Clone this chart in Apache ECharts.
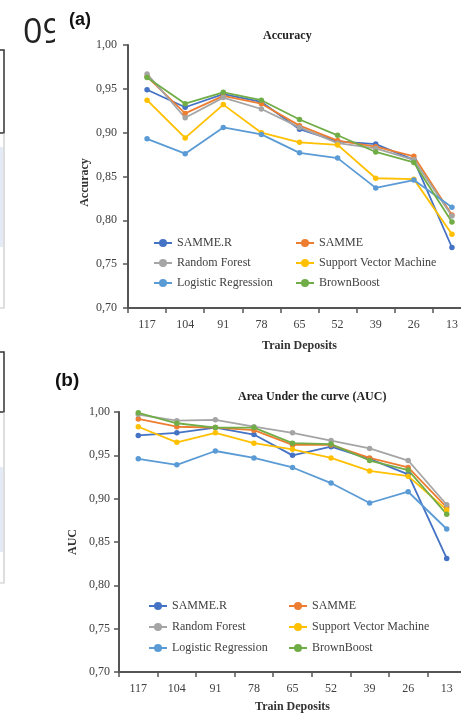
<!DOCTYPE html>
<html><head><meta charset="utf-8">
<script src="https://cdn.jsdelivr.net/npm/echarts@6/dist/echarts.min.js"></script>
<style>html,body{margin:0;padding:0;background:#fff}#c{width:461px;height:713px}</style>
</head><body><div id="c"></div>
<script>
const categories = ['117','104','91','78','65','52','39','26','13'];
const seriesNames = ['SAMME.R','SAMME','Random Forest','Support Vector Machine','Logistic Regression','BrownBoost'];
const colors = ['#4472C4','#ED7D31','#A5A5A5','#FFC000','#5B9BD5','#70AD47'];

const accSammeR = [0.949, 0.929, 0.944, 0.935, 0.904, 0.890, 0.887, 0.869, 0.769];
const accSamme  = [0.964, 0.922, 0.942, 0.933, 0.908, 0.891, 0.884, 0.873, 0.806];
const accRF     = [0.967, 0.917, 0.940, 0.927, 0.906, 0.888, 0.882, 0.869, 0.805];
const accSVM    = [0.937, 0.894, 0.932, 0.900, 0.889, 0.886, 0.848, 0.847, 0.784];
const accLR     = [0.893, 0.876, 0.906, 0.898, 0.877, 0.871, 0.837, 0.846, 0.815];
const accBB     = [0.963, 0.933, 0.946, 0.937, 0.915, 0.897, 0.878, 0.866, 0.798];

const aucSammeR = [0.973, 0.976, 0.982, 0.974, 0.950, 0.960, 0.946, 0.928, 0.831];
const aucSamme  = [0.992, 0.983, 0.982, 0.979, 0.962, 0.962, 0.947, 0.936, 0.890];
const aucRF     = [0.997, 0.990, 0.991, 0.983, 0.976, 0.967, 0.958, 0.944, 0.893];
const aucSVM    = [0.983, 0.965, 0.976, 0.964, 0.957, 0.947, 0.932, 0.926, 0.887];
const aucLR     = [0.946, 0.939, 0.955, 0.947, 0.936, 0.918, 0.895, 0.908, 0.865];
const aucBB     = [0.999, 0.987, 0.982, 0.982, 0.964, 0.963, 0.944, 0.933, 0.882];

const accData = [accSammeR, accSamme, accRF, accSVM, accLR, accBB];
const aucData = [aucSammeR, aucSamme, aucRF, aucSVM, aucLR, aucBB];

const SERIF = '"Liberation Serif", "DejaVu Serif", serif';
const AX = '#404040';

function xAxis(gi, margin, nameGap){
  return {
    type:'category', gridIndex:gi, data:categories, boundaryGap:true,
    axisLine:{lineStyle:{color:'#555', width:2}},
    axisTick:{show:true, length:5, inside:false, lineStyle:{color:'#555', width:1.5}},
    axisLabel:{color:AX, fontFamily:SERIF, fontSize:12, margin:margin},
    name:'Train Deposits', nameLocation:'middle', nameGap:nameGap, nameMoveOverlap:false,
    nameTextStyle:{color:'#333', fontFamily:SERIF, fontSize:12, fontWeight:'bold'}
  };
}
function yAxis(gi, name, margin, nameGap, pad){
  return {
    type:'value', gridIndex:gi, min:0.70, max:1.00, interval:0.05,
    splitLine:{show:false},
    axisLine:{show:true, lineStyle:{color:'#555', width:2}},
    axisTick:{show:true, length:5, lineStyle:{color:'#555', width:1.5}},
    axisLabel:{color:AX, fontFamily:SERIF, fontSize:12, margin:margin,
      formatter:v=>v.toFixed(2).replace('.', ',')},
    name:name, nameLocation:'middle', nameGap:nameGap, nameMoveOverlap:false,
    nameTextStyle:{color:'#333', fontFamily:SERIF, fontSize:12, fontWeight:'bold', padding:pad}
  };
}
const series = [];
[accData, aucData].forEach((set, gi)=>{
  set.forEach((arr, i)=>{
    series.push({
      name:seriesNames[i], type:'line', xAxisIndex:gi, yAxisIndex:gi, data:arr,
      symbol:'circle', symbolSize:5.5, color:colors[i],
      lineStyle:{width:1.8, color:colors[i]}, itemStyle:{color:colors[i]},
      emphasis:{disabled:true}, animation:false
    });
  });
});
function legend(left, top, gap, names){
  return {
    left:left, top:top, orient:'vertical', data:names, itemWidth:18, itemHeight:10, itemGap:gap,
    textStyle:{color:AX, fontFamily:SERIF, fontSize:12}, selectedMode:false
  };
}
const chart = echarts.init(document.getElementById('c'), null, {renderer:'canvas'});
chart.setOption({
  backgroundColor:'#fff',
  animation:false,
  title:[
    {text:'Accuracy', left:258, top:25, textStyle:{fontFamily:SERIF, fontSize:12, fontWeight:'bold', color:'#222'}},
    {text:'Area Under the curve (AUC)', left:233, top:386, textStyle:{fontFamily:SERIF, fontSize:12, fontWeight:'bold', color:'#222'}}
  ],
  grid:[
    {left:128, top:45, right:-10, height:263, outerBoundsMode:'none', containLabel:false},
    {left:119, top:412, right:-5, height:260, outerBoundsMode:'none', containLabel:false}
  ],
  xAxis:[xAxis(0, 11, 32), xAxis(1, 11, 29)],
  yAxis:[yAxis(0, 'Accuracy', 11, 37, [0, 12, 0, 0]), yAxis(1, 'AUC', 9, 40, 0)],
  legend:[
    legend(148, 232, 8, ['SAMME.R','Random Forest','Logistic Regression']),
    legend(290, 232, 8, ['SAMME','Support Vector Machine','BrownBoost']),
    legend(143, 595, 9, ['SAMME.R','Random Forest','Logistic Regression']),
    legend(283, 595, 9, ['SAMME','Support Vector Machine','BrownBoost'])
  ],
  graphic:[
    {type:'text', left:23, top:16, style:{text:'09', font:'34px "Open Sans", "Liberation Sans", sans-serif', fill:'#222'}},
    {type:'rect', shape:{x:55, y:10, width:13, height:50}, style:{fill:'#fff'}},
    {type:'text', left:69, top:11, style:{text:'(a)', font:'bold 18px "Liberation Sans", sans-serif', fill:'#111'}},
    {type:'text', left:55, top:371, style:{text:'(b)', font:'bold 19px "Liberation Sans", sans-serif', fill:'#111'}},
    {type:'rect', shape:{x:0, y:147, width:3, height:100}, style:{fill:'#e4eaf6'}},
    {type:'rect', shape:{x:0, y:467, width:3, height:85}, style:{fill:'#e4eaf6'}},
    {type:'polyline', shape:{points:[[0,50],[4,50],[4,133],[0,133]]}, style:{stroke:'#333', lineWidth:1.5, fill:null}},
    {type:'polyline', shape:{points:[[4,133],[4,308],[0,308]]}, style:{stroke:'#c8c8c8', lineWidth:1.2, fill:null}},
    {type:'polyline', shape:{points:[[0,352],[4,352],[4,412],[0,412]]}, style:{stroke:'#333', lineWidth:1.5, fill:null}},
    {type:'polyline', shape:{points:[[4,412],[4,583],[0,583]]}, style:{stroke:'#c8c8c8', lineWidth:1.2, fill:null}}
  ],
  series:series
});
</script></body></html>
